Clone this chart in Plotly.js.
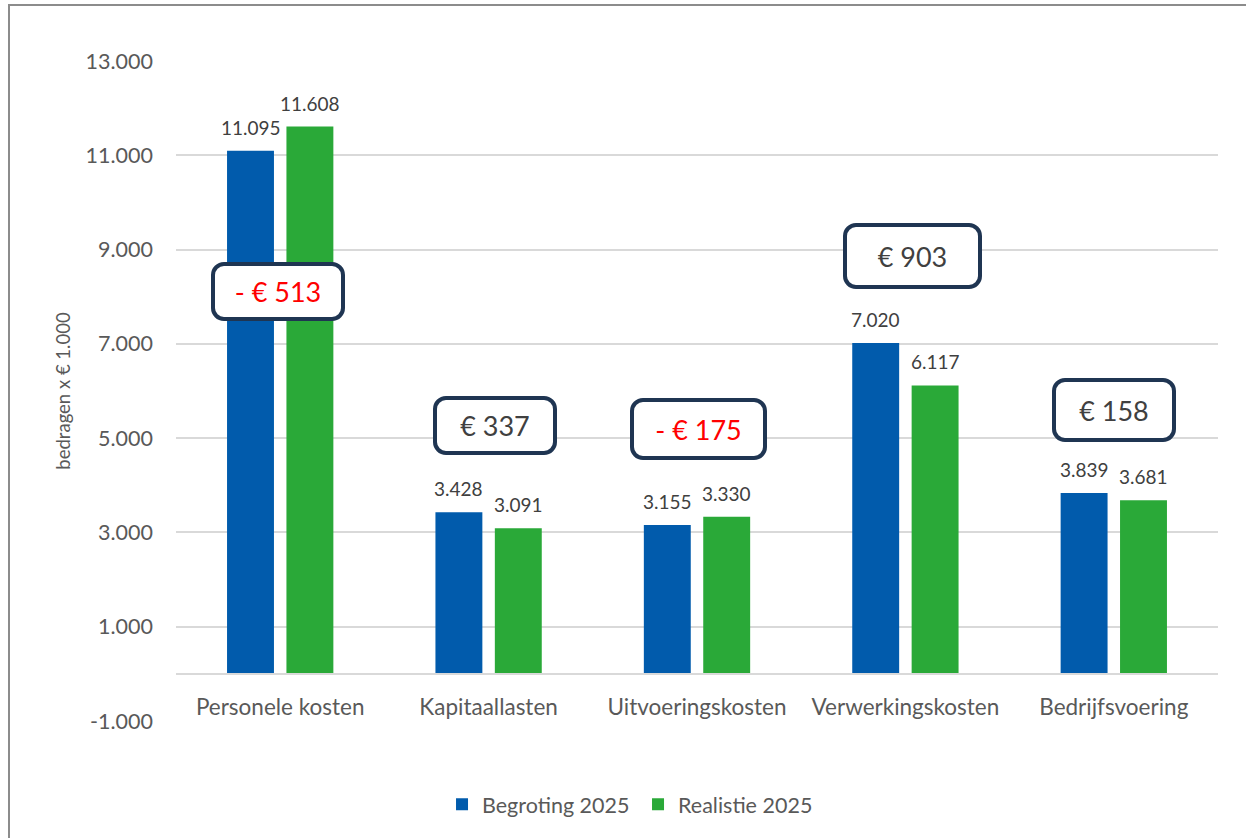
<!DOCTYPE html>
<html>
<head>
<meta charset="utf-8">
<script src="https://cdn.plot.ly/plotly-3.0.1.min.js"></script>
<style>
html,body{margin:0;padding:0;background:#fff;overflow:hidden}
#chart{width:1246px;height:838px;position:absolute;left:0;top:0}
#frame{position:absolute;left:8px;top:4px;width:1300px;height:900px;border:2px solid #8c8c8c;pointer-events:none}
</style>
</head>
<body>
<div id="chart"></div>
<div id="frame"></div>
<script>
// ---- data ----
const categories = ['Personele kosten', 'Kapitaallasten', 'Uitvoeringskosten', 'Verwerkingskosten', 'Bedrijfsvoering'];
const begroting2025 = [11095, 3428, 3155, 7020, 3839];
const realisatie2025 = [11608, 3091, 3330, 6117, 3681];
const seriesNames = ['Begroting 2025', 'Realistie 2025'];
const yTickValues = [-1000, 1000, 3000, 5000, 7000, 9000, 11000, 13000];
const yTickLabels = ['-1.000', '1.000', '3.000', '5.000', '7.000', '9.000', '11.000', '13.000'];
const yRange = [-1000, 13000];
const yAxisTitle = 'bedragen x € 1.000';

// ---- placement / style of the difference boxes (not data) ----
const boxCenterY = [8105, 5272, 5197, 8869, 5601];
const boxShiftX = [-2, 6, 1, 7, 0];
const boxOuterW = [134, 124, 137, 139, 124];
const boxOuterH = [59, 59, 62, 66, 64];

const FONT = 'Lato, "Open Sans", sans-serif';
const BLUE = '#015BAC';
const GREEN = '#2AA938';
const GRID = '#d9d9d9';
const TXT = '#595959';
const LBL = '#404040';

const W = 1246, H = 838;
const margin = {l: 176, r: 28, t: 61, b: 117};
const bargap = 0.43, bargroupgap = 0.21;

function fmt(v) {
  const s = String(Math.abs(v)).replace(/\B(?=(\d{3})+(?!\d))/g, '.');
  return (v < 0 ? '-' : '') + s;
}

const plotW = W - margin.l - margin.r;
const catW = plotW / categories.length;
const slot = catW * (1 - bargap) / 2;
const barOffset = slot / 2;

const annotations = [];
// value labels above bars
[begroting2025, realisatie2025].forEach((series, si) => {
  series.forEach((v, i) => {
    annotations.push({
      x: categories[i], y: v, xref: 'x', yref: 'y',
      xshift: si === 0 ? -barOffset : barOffset, yshift: 10,
      yanchor: 'bottom', xanchor: 'center', showarrow: false,
      text: fmt(v), font: {family: FONT, size: 19, color: LBL}
    });
  });
});
// difference boxes
categories.forEach((c, i) => {
  const diff = begroting2025[i] - realisatie2025[i];
  const txt = (diff < 0 ? '- ' : '') + '€ ' + fmt(Math.abs(diff));
  annotations.push({
    x: c, y: boxCenterY[i], xref: 'x', yref: 'y', xshift: boxShiftX[i],
    xanchor: 'center', yanchor: 'middle', showarrow: false,
    text: txt, font: {family: FONT, size: 27, color: diff < 0 ? '#FF0000' : LBL},
    bgcolor: '#ffffff', bordercolor: '#1F3552', borderwidth: 4, borderpad: 0,
    width: boxOuterW[i] - 8, height: boxOuterH[i] - 8, align: 'center', valign: 'middle'
  });
});

const traces = [
  {type: 'bar', name: seriesNames[0], x: categories, y: begroting2025, marker: {color: BLUE}, hoverinfo: 'skip'},
  {type: 'bar', name: seriesNames[1], x: categories, y: realisatie2025, marker: {color: GREEN}, hoverinfo: 'skip'}
];

const layout = {
  width: W, height: H, margin: margin,
  paper_bgcolor: '#ffffff', plot_bgcolor: '#ffffff',
  barmode: 'group', bargap: bargap, bargroupgap: bargroupgap,
  font: {family: FONT, color: TXT},
  showlegend: true,
  legend: {
    orientation: 'h', x: 0.4434, xanchor: 'center', y: -0.126, yanchor: 'middle',
    font: {family: FONT, size: 21.5, color: TXT}, itemwidth: 30, traceorder: 'normal',
    entrywidth: 151, entrywidthmode: 'pixels'
  },
  xaxis: {
    type: 'category', anchor: 'free', position: (0 - yRange[0]) / (yRange[1] - yRange[0]),
    showline: true, linecolor: GRID, linewidth: 2, ticks: '', showgrid: false,
    tickfont: {family: FONT, size: 22.5, color: TXT}, ticklabelstandoff: 13, fixedrange: true
  },
  yaxis: {
    range: yRange, tickvals: yTickValues, ticktext: yTickLabels,
    showgrid: true, gridcolor: GRID, gridwidth: 2, zeroline: false, showline: false, ticks: '',
    tickfont: {family: FONT, size: 21.5, color: TXT}, ticklabelstandoff: 22,
    title: {text: yAxisTitle, font: {family: FONT, size: 18.5, color: TXT}, standoff: 10},
    fixedrange: true
  },
  annotations: annotations
};

Plotly.newPlot('chart', traces, layout, {displayModeBar: false, staticPlot: true}).then(() => {
  document.querySelectorAll('g.annotation rect.bg').forEach(r => {
    r.setAttribute('rx', 11); r.setAttribute('ry', 11);
  });
});
</script>
</body>
</html>
